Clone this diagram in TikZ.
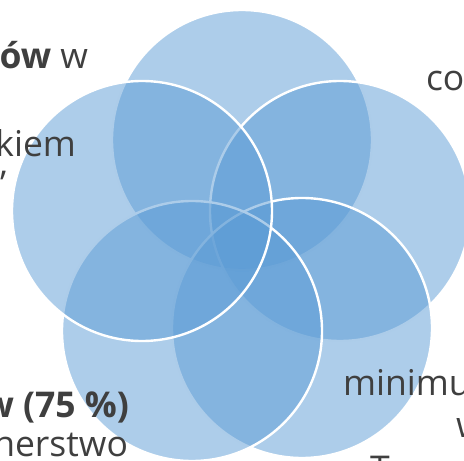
\documentclass[tikz,border=0pt]{standalone}
\usepackage{fontspec}
\setmainfont{Open Sans}
\definecolor{vennblue}{HTML}{5B9BD5}
\definecolor{txtgray}{HTML}{3F3F3F}
\begin{document}
\begin{tikzpicture}[x=1bp,y=-1bp,
  venn/.style={circle, inner sep=0pt, minimum size=260bp, fill=vennblue, fill opacity=0.5, draw=white, draw opacity=1, line width=2.4bp},
  lbl/.style={inner sep=0pt, outer sep=0pt, text=txtgray, font=\fontsize{35.5bp}{42bp}\selectfont}
]
\useasboundingbox (0,0) rectangle (464,461);
\clip (0,0) rectangle (464,461);
\node[venn] (ctop) at (242,140) {};
\node[venn] (cright) at (340,211) {};
\node[venn] (cbr) at (302,328) {};
\node[venn] (cbl) at (192,331) {};
\node[venn] (cleft) at (142,211) {};
\node[lbl, anchor=base east] (t1) at (88,69) {\textbf{ów} w};
\node[lbl, anchor=base east] (t2) at (76,157) {kiem};
\node[lbl, anchor=base west] (t3) at (0,197) {’};
\node[lbl, anchor=base west] (t4) at (426,91) {co};
\node[lbl, anchor=base east] (t5) at (129,417) {\textbf{w (75 \%)}};
\node[lbl, anchor=base east] (t6) at (128,456) {nerstwo};
\node[lbl, anchor=base west] (t7) at (343,395) {minimum};
\node[lbl, anchor=base west] (t8) at (456,437) {w};
\node[lbl, anchor=base west] (t9) at (370,481) {T};
\end{tikzpicture}
\end{document}
